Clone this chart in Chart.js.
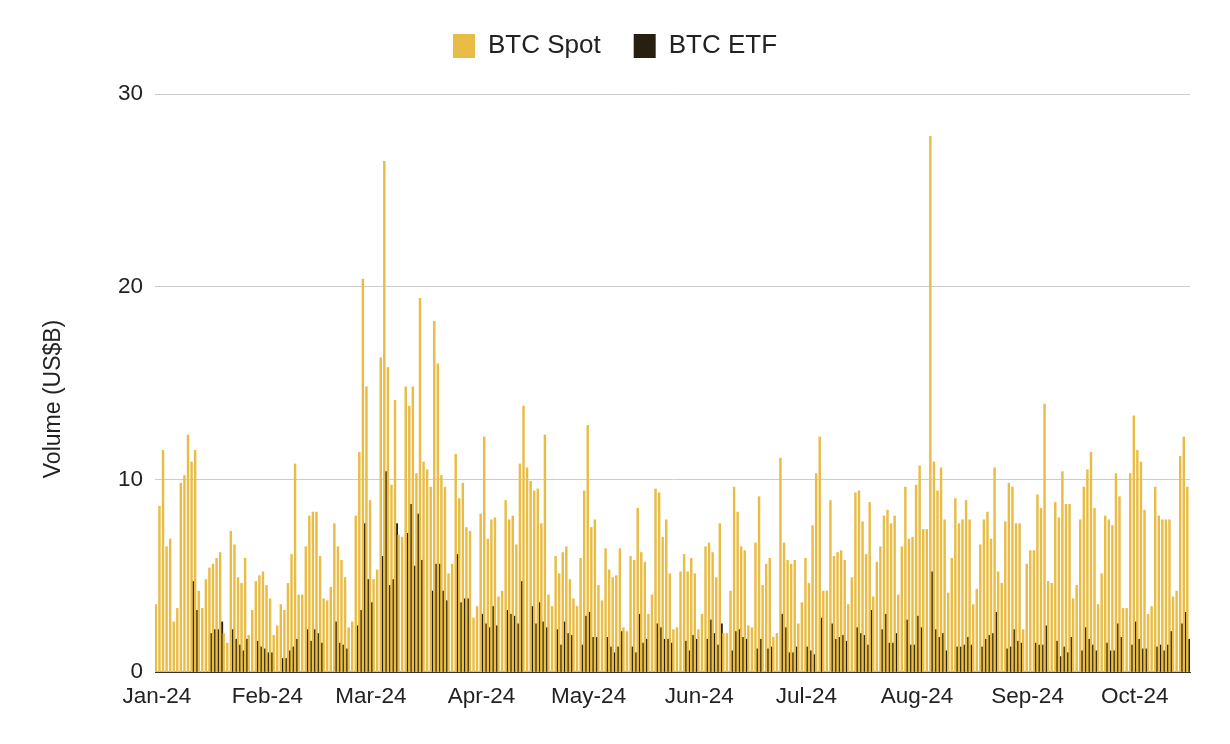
<!DOCTYPE html>
<html>

<head>
  <title>BTC Spot vs ETF Volume</title>
  <script src="https://cdn.jsdelivr.net/npm/chart.js"></script>
  <style>
    body { margin: 0; background: #fff; }
  </style>
</head>

<body>
  <canvas id="myChart" width="1230" height="744"></canvas>
  <script>
    // months shown on the axis and how many days each one has in the data
    var monthLabels = ['Jan-24', 'Feb-24', 'Mar-24', 'Apr-24', 'May-24', 'Jun-24', 'Jul-24', 'Aug-24', 'Sep-24', 'Oct-24'];
    var monthDays = [31, 29, 31, 30, 31, 30, 31, 31, 30, 16];

    // daily volume, US$B, Jan 1 -> Oct 16
    var spotVolume = [
      3.5, 8.6, 11.5, 6.5, 6.9, 2.6, 3.3, 9.8, 10.2, 12.3, 10.9, 11.5, 4.2, 3.3, 4.8, 5.4, 5.6, 5.9, 6.2, 2.0, 1.5, 7.3, 6.6, 4.9, 4.6, 5.9, 1.9, 3.2, 4.7, 5.0, 5.2,
      4.5, 3.8, 1.9, 2.4, 3.5, 3.2, 4.6, 6.1, 10.8, 4.0, 4.0, 6.5, 8.1, 8.3, 8.3, 6.0, 3.8, 3.7, 4.4, 7.7, 6.5, 5.8, 4.9, 2.3, 2.6, 8.1, 11.4, 20.4, 14.8,
      8.9, 4.8, 5.3, 16.3, 26.5, 15.8, 9.7, 14.1, 7.1, 7.0, 14.8, 13.8, 14.8, 10.3, 19.4, 10.9, 10.5, 9.6, 18.2, 16.0, 10.2, 9.6, 5.1, 5.6, 11.3, 9.0, 9.8, 7.5, 7.3, 2.8, 3.4,
      8.2, 12.2, 6.9, 7.9, 8.0, 3.9, 4.2, 8.9, 7.9, 8.1, 6.6, 10.8, 13.8, 10.6, 9.9, 9.4, 9.5, 7.7, 12.3, 4.0, 3.4, 6.0, 5.1, 6.2, 6.5, 4.8, 3.8, 3.4, 5.9, 9.4,
      12.8, 7.5, 7.9, 4.5, 3.7, 6.4, 5.3, 4.9, 5.0, 6.4, 2.3, 2.1, 6.0, 5.8, 8.5, 6.2, 5.7, 3.0, 4.0, 9.5, 9.3, 7.0, 7.9, 5.1, 2.2, 2.3, 5.2, 6.1, 5.2, 5.9, 5.1,
      2.2, 3.0, 6.5, 6.7, 6.2, 4.9, 7.7, 2.0, 2.0, 4.2, 9.6, 8.3, 6.5, 6.3, 2.4, 2.3, 6.7, 9.1, 4.5, 5.6, 5.9, 1.8, 2.0, 11.1, 6.7, 5.8, 5.6, 5.8, 2.5, 3.6,
      5.9, 4.6, 7.6, 10.3, 12.2, 4.2, 4.2, 8.9, 6.0, 6.2, 6.3, 5.8, 3.5, 4.9, 9.3, 9.4, 7.8, 6.1, 8.8, 3.9, 5.7, 6.5, 8.1, 8.4, 7.7, 8.1, 4.0, 6.5, 9.6, 6.9, 7.0,
      9.7, 10.7, 7.4, 7.4, 27.8, 10.9, 9.4, 10.6, 7.9, 4.1, 5.9, 9.0, 7.7, 7.9, 8.9, 7.9, 3.5, 4.3, 6.6, 7.9, 8.3, 6.9, 10.6, 5.2, 4.6, 7.8, 9.8, 9.6, 7.7, 7.7, 2.2,
      5.6, 6.3, 6.3, 9.2, 8.5, 13.9, 4.7, 4.6, 8.8, 8.0, 10.4, 8.7, 8.7, 3.8, 4.5, 7.9, 9.6, 10.5, 11.4, 8.5, 3.5, 5.1, 8.1, 7.9, 7.6, 10.3, 9.1, 3.3, 3.3, 10.3,
      13.3, 11.5, 10.9, 8.4, 3.0, 3.4, 9.6, 8.1, 7.9, 7.9, 7.9, 3.9, 4.2, 11.2, 12.2, 9.6
    ];

    // ETFs start trading Jan 11, zero on weekends and US holidays
    var etfVolume = [
      0, 0, 0, 0, 0, 0, 0, 0, 0, 0, 4.7, 3.2, 0, 0, 0, 2.0, 2.2, 2.2, 2.6, 0, 0, 2.2, 1.7, 1.4, 1.1, 1.7, 0, 0, 1.6, 1.3, 1.2,
      1.0, 1.0, 0, 0, 0.7, 0.7, 1.1, 1.3, 1.7, 0, 0, 2.2, 1.6, 2.2, 2.0, 1.5, 0, 0, 0, 2.6, 1.5, 1.4, 1.2, 0, 0, 2.4, 3.2, 7.7, 4.8,
      3.6, 0, 0, 6.0, 10.4, 4.5, 4.8, 7.7, 0, 0, 7.2, 8.7, 5.5, 8.2, 5.8, 0, 0, 4.2, 5.6, 5.6, 4.2, 3.7, 0, 0, 6.1, 3.6, 3.8, 3.8, 0, 0, 0,
      3.0, 2.5, 2.3, 3.4, 2.4, 0, 0, 3.2, 3.0, 2.9, 2.5, 4.7, 0, 0, 3.4, 2.5, 3.6, 2.6, 2.3, 0, 0, 2.2, 1.4, 2.6, 2.0, 1.9, 0, 0, 1.4, 2.9,
      3.1, 1.8, 1.8, 0, 0, 1.8, 1.3, 1.0, 1.3, 2.1, 0, 0, 1.3, 1.0, 3.0, 1.5, 1.7, 0, 0, 2.5, 2.3, 1.7, 1.7, 1.5, 0, 0, 0, 1.6, 1.1, 1.9, 1.7,
      0, 0, 1.7, 2.7, 2.0, 1.4, 2.5, 0, 0, 1.1, 2.1, 2.2, 1.8, 1.7, 0, 0, 1.2, 1.7, 0, 1.2, 1.3, 0, 0, 3.0, 2.3, 1.0, 1.0, 1.3, 0, 0,
      1.3, 1.1, 0.9, 0, 2.8, 0, 0, 2.5, 1.7, 1.8, 1.9, 1.6, 0, 0, 2.3, 2.0, 1.9, 1.4, 3.2, 0, 0, 2.2, 3.0, 1.5, 1.5, 2.0, 0, 0, 2.7, 1.4, 1.4,
      2.9, 2.3, 0, 0, 5.2, 2.2, 1.8, 2.0, 1.1, 0, 0, 1.3, 1.3, 1.4, 1.8, 1.4, 0, 0, 1.3, 1.7, 1.9, 2.0, 3.1, 0, 0, 1.2, 1.3, 2.2, 1.6, 1.5, 0,
      0, 0, 1.5, 1.4, 1.4, 2.4, 0, 0, 1.6, 0.8, 1.3, 1.0, 1.8, 0, 0, 1.1, 2.3, 1.7, 1.4, 1.1, 0, 0, 1.5, 1.1, 1.1, 2.5, 1.8, 0, 0, 1.4,
      2.6, 1.7, 1.2, 1.2, 0, 0, 1.3, 1.4, 1.1, 1.4, 2.1, 0, 0, 2.5, 3.1, 1.7
    ];

    // one category per day, month label only on the 1st
    var dayLabels = [];
    var tickText = [];
    monthDays.forEach(function (n, m) {
      for (var d = 1; d <= n; d++) {
        dayLabels.push(monthLabels[m] + '-' + d);
        tickText.push(d === 1 ? monthLabels[m] : null);
      }
    });

    var font = "'Liberation Sans', Arial, sans-serif";

    // push the plot down a little below the legend
    var legendGap = {
      id: 'legendGap',
      afterInit: function (chart) {
        var fit = chart.legend.fit;
        chart.legend.fit = function () {
          fit.call(this);
          this.height += 25;
        };
      }
    };

    var ctx = document.getElementById('myChart').getContext('2d');
    var chart = new Chart(ctx, {
      type: 'bar',
      data: {
        labels: dayLabels,
        datasets: [
          {
            label: 'BTC Spot',
            data: spotVolume,
            backgroundColor: '#E8BC45',
            categoryPercentage: 1.0,
            barPercentage: 1.0
          },
          {
            label: 'BTC ETF',
            data: etfVolume,
            backgroundColor: '#272010',
            categoryPercentage: 1.0,
            barPercentage: 1.0
          }
        ]
      },
      plugins: [legendGap],
      options: {
        responsive: false,
        animation: false,
        layout: {
          padding: { left: 40, right: 40, top: 0, bottom: 0 }
        },
        plugins: {
          tooltip: { enabled: false },
          legend: {
            position: 'top',
            labels: {
              boxWidth: 22,
              boxHeight: 24,
              padding: 33,
              color: '#222',
              font: { family: font, size: 26 }
            }
          }
        },
        scales: {
          x: {
            grid: { display: false },
            border: { display: true, color: '#333', width: 1 },
            ticks: {
              autoSkip: false,
              maxRotation: 0,
              minRotation: 0,
              padding: 3,
              color: '#222',
              font: { family: font, size: 22.5 },
              callback: function (value, index) {
                return tickText[index];
              }
            },
            afterFit: function (scale) {
              scale.height = 72;
            }
          },
          y: {
            min: 0,
            max: 30,
            ticks: {
              stepSize: 10,
              padding: 12,
              color: '#222',
              font: { family: font, size: 22.5 }
            },
            grid: { color: '#cccccc', lineWidth: 1, drawTicks: false },
            border: { display: false },
            title: {
              display: true,
              // trailing spaces nudge the rotated title down, as in the original
              text: 'Volume (US$B)     ',
              color: '#222',
              font: { family: font, size: 23 },
              padding: { top: 0, bottom: 0 }
            },
            afterFit: function (scale) {
              scale.width = 115;
            }
          }
        }
      }
    });
  </script>
</body>

</html>
